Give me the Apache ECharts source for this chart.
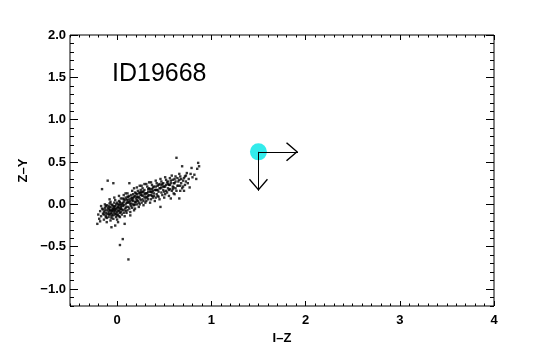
<!DOCTYPE html>
<html>
<head>
<meta charset="utf-8">
<script src="https://cdn.jsdelivr.net/npm/echarts@6/dist/echarts.min.js"></script>
<style>
  html, body { margin: 0; padding: 0; background: #fff; }
  #chart { width: 550px; height: 350px; }
</style>
</head>
<body>
<div id="chart"></div>
<script>
// colour-colour points, [I-Z, Z-Y]
const sources = [
  [-0.21,-0.23],[-0.2,-0.12],
  [-0.18,-0.08],[-0.17,-0.14],[-0.16,-0.05],[-0.19,-0.17],[-0.16,0.18],[-0.15,-0.11],[-0.17,-0.02],[-0.18,-0.2],
  [-0.14,-0.09],[-0.13,-0.04],[-0.12,-0.13],[-0.14,-0.18],[-0.11,-0.07],[-0.13,0.0],[-0.12,-0.1],[-0.11,-0.16],
  [-0.14,-0.12],[-0.1,0.28],[-0.12,-0.02],[-0.13,-0.07],[-0.11,-0.21],[-0.1,-0.11],[-0.12,-0.15],
  [-0.09,-0.06],[-0.08,-0.12],[-0.07,-0.03],[-0.09,-0.15],[-0.06,-0.08],[-0.08,0.01],[-0.07,-0.11],[-0.05,-0.05],
  [-0.09,-0.09],[-0.06,-0.14],[-0.08,-0.04],[-0.07,-0.19],[-0.05,-0.01],[-0.06,-0.1],[-0.09,-0.02],[-0.08,-0.07],
  [-0.05,-0.12],[-0.07,0.03],[-0.06,-0.16],[-0.06,-0.27],[-0.08,0.06],[-0.05,-0.07],
  [-0.04,-0.05],[-0.03,-0.1],[-0.02,-0.02],[-0.04,-0.13],[-0.01,-0.06],[-0.03,0.02],[-0.02,-0.08],[-0.04,-0.17],
  [0.0,-0.04],[-0.01,-0.11],[-0.03,-0.06],[-0.02,0.05],[-0.04,0.25],[-0.01,-0.15],[0.0,-0.09],[-0.03,-0.03],
  [-0.02,-0.25],[-0.01,0.0],[-0.04,-0.08],[0.0,-0.13],[-0.02,-0.12],[-0.03,0.08],
  [0.01,-0.03],[0.02,-0.08],[0.03,0.01],[0.01,-0.12],[0.04,-0.05],[0.02,0.04],[0.03,-0.1],[0.01,-0.21],
  [0.04,-0.01],[0.02,-0.14],[0.03,-0.06],[0.04,0.07],[0.01,0.0],[0.03,-0.48],[0.02,-0.04],[0.04,-0.09],
  [0.01,-0.07],[0.03,0.03],[0.05,-0.12],[0.02,0.1],[0.04,-0.03],[0.05,0.01],
  [0.06,-0.02],[0.07,0.03],[0.08,-0.06],[0.06,0.07],[0.09,0.0],[0.07,-0.1],[0.08,0.05],[0.06,-0.41],
  [0.09,-0.04],[0.07,0.11],[0.08,-0.23],[0.1,0.02],[0.06,-0.07],[0.09,0.08],[0.07,-0.01],[0.08,-0.14],
  [0.1,-0.03],[0.09,0.13],[0.06,0.01],[0.1,0.06],
  [0.11,0.02],[0.12,-0.03],[0.13,0.06],[0.11,-0.07],[0.14,0.0],[0.12,0.09],[0.13,-0.05],[0.12,-0.65],
  [0.14,0.04],[0.11,0.13],[0.15,-0.02],[0.13,0.1],[0.12,0.03],[0.14,-0.09],[0.15,0.07],[0.11,0.05],
  [0.13,0.25],[0.15,0.01],
  [0.16,0.05],[0.17,0.0],[0.18,0.09],[0.16,-0.04],[0.19,0.03],[0.17,0.12],[0.18,-0.01],[0.2,0.07],
  [0.16,0.16],[0.19,0.1],[0.17,0.04],[0.18,-0.07],[0.2,0.13],[0.19,0.0],[0.16,0.08],[0.2,0.03],[0.18,0.19],
  [0.21,0.09],[0.22,0.04],[0.23,0.13],[0.21,0.0],[0.24,0.07],[0.22,0.16],[0.23,0.02],[0.25,0.11],
  [0.21,0.2],[0.24,0.14],[0.22,0.08],[0.23,-0.03],[0.25,0.05],[0.24,0.22],[0.21,0.12],[0.25,0.17],
  [0.26,0.11],[0.27,0.06],[0.28,0.15],[0.26,0.02],[0.29,0.09],[0.27,0.19],[0.28,0.04],[0.3,0.13],
  [0.26,0.22],[0.29,0.17],[0.27,0.1],[0.28,-0.01],[0.3,0.07],[0.29,0.24],[0.26,0.14],
  [0.31,0.13],[0.32,0.08],[0.33,0.18],[0.31,0.04],[0.34,0.11],[0.32,0.21],[0.33,0.06],[0.35,0.15],
  [0.31,0.24],[0.34,0.19],[0.32,0.13],[0.35,0.02],[0.33,0.1],[0.34,0.26],
  [0.36,0.15],[0.37,0.1],[0.38,0.2],[0.36,0.06],[0.39,0.13],[0.37,0.23],[0.38,0.08],[0.4,0.17],
  [0.36,0.26],[0.39,0.21],[0.37,0.14],[0.4,0.04],[0.38,0.16],
  [0.41,0.17],[0.42,0.12],[0.43,0.22],[0.41,0.08],[0.44,0.15],[0.42,0.25],[0.43,0.1],[0.45,0.19],
  [0.41,0.28],[0.44,0.23],[0.42,0.17],[0.45,0.06],
  [0.46,0.19],[0.47,0.14],[0.48,0.24],[0.46,-0.03],[0.49,0.17],[0.47,0.27],[0.48,0.11],[0.5,0.21],
  [0.46,0.3],[0.49,0.25],[0.47,0.2],[0.5,0.08],
  [0.51,0.21],[0.52,0.16],[0.53,0.26],[0.51,0.12],[0.54,0.19],[0.52,0.29],[0.53,0.14],[0.55,0.23],
  [0.51,0.32],[0.54,0.27],[0.55,0.1],
  [0.56,0.23],[0.57,0.07],[0.58,0.34],[0.56,0.18],[0.59,0.21],[0.57,0.28],[0.58,0.16],[0.6,0.25],
  [0.56,0.31],[0.59,0.29],[0.6,0.13],
  [0.61,0.25],[0.62,0.19],[0.63,0.55],[0.61,0.3],[0.64,0.22],[0.62,0.33],[0.63,0.16],[0.65,0.27],
  [0.64,0.31],[0.61,0.12],
  [0.66,0.07],[0.67,0.22],[0.69,0.45],[0.66,0.29],[0.68,0.25],[0.67,0.33],[0.7,0.28],[0.69,0.19],[0.66,0.36],
  [0.73,0.27],[0.74,0.37],[0.71,0.31],[0.72,0.23],[0.75,0.25],[0.73,0.34],[0.71,0.16],
  [0.79,0.43],[0.76,0.3],[0.78,0.36],[0.77,0.2],[0.8,0.32],
  [0.82,0.35],[0.86,0.49],[0.85,0.42],[0.84,0.3],[0.87,0.45],
  [-0.15,-0.06],[-0.1,-0.04],[-0.09,-0.12],[-0.07,-0.07],[-0.04,-0.02],[-0.02,-0.05],[0.0,0.02],[0.02,-0.01],
  [0.05,-0.06],[0.07,0.06],[0.09,-0.08],[0.11,0.09],[0.13,0.02],[0.15,0.11],[0.17,0.07],[0.19,0.14],
  [0.21,0.05],[0.23,0.09],[0.25,0.14],[0.27,0.15],[0.29,0.12],[0.31,0.09],[0.33,0.15],[0.35,0.18],
  [0.37,0.18],[0.39,0.1],[0.41,0.21],[0.43,0.17],[0.45,0.24],[0.47,0.23],[0.49,0.21],[0.52,0.23],
  [0.54,0.24],[0.57,0.25],[0.59,0.18],[0.62,0.27],[0.65,0.22],[0.68,0.3],[0.7,0.21],[0.72,0.33],
  [-0.11,-0.01],[-0.06,0.0],[0.0,-0.18],[0.03,-0.15],[0.1,-0.1],[0.14,-0.13],[0.19,-0.05],[0.24,0.0],
  [0.3,0.02],[0.36,0.11],[0.44,0.09],[0.5,0.15],[0.55,0.17],[0.6,0.2],[0.67,0.16]
];

// target position and its two arrow tips
const target = [1.5, 0.62];
const arrowTipX = 1.92;
const arrowTipY = 0.16;

const xMajor = [0, 1, 2, 3, 4];
const yMajor = [-1.0, -0.5, 0.0, 0.5, 1.0, 1.5, 2.0];
const xRange = [-0.5, 4];
const yRange = [-1.2, 2.0];

function minorTicks(lo, hi) {
  const out = [];
  for (let i = Math.round(lo * 10); i <= Math.round(hi * 10); i++) out.push(i / 10);
  return out;
}
const xMinor = minorTicks(xRange[0], xRange[1]);
const yMinor = minorTicks(yRange[0], yRange[1]);

const FONT = 'Liberation Sans, Arial, Helvetica, sans-serif';
const fmt = v => v.toFixed(1).replace('-', '\u2212');
const labelStyle = { color: '#000', fontSize: 13, fontWeight: 'bold', fontFamily: FONT };

function xAx(pos, ticks, len, labels) {
  return {
    type: 'value', position: pos, min: xRange[0], max: xRange[1],
    axisLine: { show: false, onZero: false }, splitLine: { show: false },
    axisTick: { show: true, inside: true, length: len, customValues: ticks, lineStyle: { color: '#000', width: 1 } },
    axisLabel: labels ? Object.assign({ show: true, customValues: xMajor, margin: 8 }, labelStyle) : { show: false }
  };
}
function yAx(pos, ticks, len, labels) {
  return {
    type: 'value', position: pos, min: yRange[0], max: yRange[1],
    axisLine: { show: false, onZero: false }, splitLine: { show: false },
    axisTick: { show: true, inside: true, length: len, customValues: ticks, lineStyle: { color: '#000', width: 1 } },
    axisLabel: labels ? Object.assign({ show: true, customValues: yMajor, margin: 4, formatter: fmt }, labelStyle) : { show: false }
  };
}

const xAxes = [xAx('bottom', xMajor, 5, true), xAx('bottom', xMinor, 2.5), xAx('top', xMajor, 5), xAx('top', xMinor, 2.5)];
Object.assign(xAxes[0], { name: 'I\u2013Z', nameLocation: 'middle', nameGap: 22, nameTextStyle: labelStyle });
const yAxes = [yAx('left', yMajor, 8, true), yAx('left', yMinor, 4), yAx('right', yMajor, 8), yAx('right', yMinor, 4)];
Object.assign(yAxes[0], { name: 'Z\u2013Y', nameLocation: 'middle', nameGap: 38, nameTextStyle: labelStyle });

const chart = echarts.init(document.getElementById('chart'));
const arrowHead = 'path://M0,11 L9.5,0 L19,11 L18,12 L9.5,2 L1,12 Z';

chart.setOption({
  animation: false,
  backgroundColor: '#fff',
  title: {
    text: 'ID19668', left: 112, top: 62, padding: 0,
    textStyle: { fontSize: 25, fontWeight: 'normal', color: '#000', fontFamily: FONT }
  },
  grid: { left: 70, right: 56, top: 35, bottom: 44, show: true, borderColor: '#000', borderWidth: 1, backgroundColor: 'transparent' },
  xAxis: xAxes,
  yAxis: yAxes,
  series: [
    {
      type: 'scatter', xAxisIndex: 0, yAxisIndex: 0,
      symbol: 'rect', symbolSize: 2.4,
      itemStyle: { color: '#000' },
      data: sources, silent: true
    },
    {
      type: 'scatter', xAxisIndex: 0, yAxisIndex: 0,
      symbolSize: 17, itemStyle: { color: '#00e6e6' },
      data: [target], silent: true,
      markLine: {
        silent: true, animation: false,
        symbol: ['none', arrowHead], symbolSize: [19, 12], symbolOffset: [0, [0, 6]],
        label: { show: false },
        lineStyle: { color: '#000', width: 1, type: 'solid' },
        itemStyle: { color: '#000' },
        data: [
          [{ coord: target }, { coord: [arrowTipX, target[1]] }],
          [{ coord: target }, { coord: [target[0], arrowTipY] }]
        ]
      }
    }
  ]
});

window.addEventListener('resize', function () { chart.resize(); });
</script>
</body>
</html>
